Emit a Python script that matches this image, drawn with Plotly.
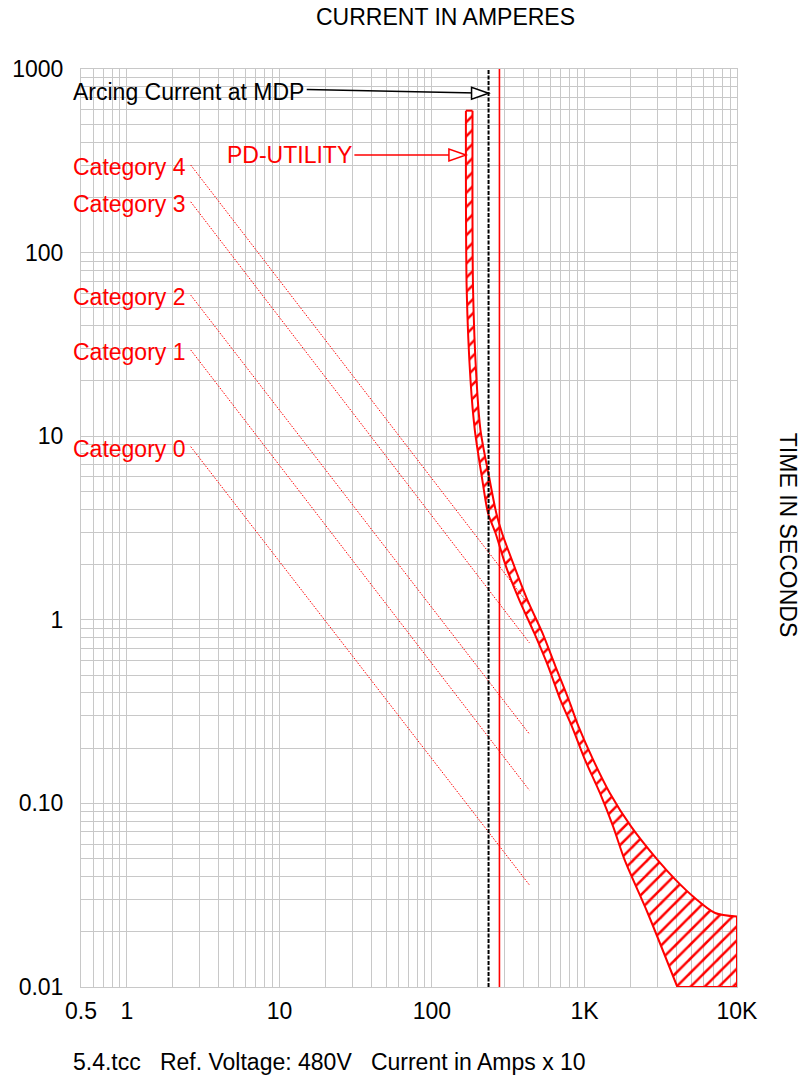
import math
import plotly.graph_objects as go

# ---------------- Data ----------------
# PD-UTILITY band: minimum (left) and maximum (right) clearing curves, amps / seconds
pd_min_amps = [167, 169, 179, 191, 214, 233, 261, 306, 374, 468, 579, 695, 828,
               1010, 1262, 1542, 1834, 2597, 4064]
pd_min_secs = [593, 62.5, 20.2, 10.8, 5.77, 3.82, 2.97, 1.95, 1.28, 0.848, 0.556,
               0.366, 0.262, 0.172, 0.114, 0.0747, 0.0492, 0.0253, 0.01]
pd_max_amps = [184.5, 186, 196, 208, 239, 264, 288, 347, 423, 530, 646, 789, 915,
               1143, 1465, 2024, 3013, 3960, 5180, 7190, 10000]
pd_max_secs = [593, 62.5, 20.2, 10.8, 5.77, 3.82, 2.97, 1.95, 1.28, 0.848, 0.556,
               0.366, 0.262, 0.172, 0.114, 0.0747, 0.0492, 0.0383, 0.031, 0.0253,
               0.0242]
pd_floor_secs = 0.01

# Arc-flash category lines (start / end points)
categories = ["Category 4", "Category 3", "Category 2", "Category 1", "Category 0"]
cat_amps = [2.62, 435]
cat_start_secs = [300, 189, 58.7, 29.5, 8.77]
cat_end_secs = [1.20, 0.75, 0.239, 0.118, 0.036]

arcing_current = 235      # Arcing current at MDP (black dashed)
red_line_current = 277    # red vertical marker
pd_label_secs = 340       # where the PD-UTILITY arrow hits the band
arc_label_secs = [774, 738]
arc_label_from = 15.1
pd_label_from = 31

x_labels = {0.5: "0.5", 1: "1", 10: "10", 100: "100", 1000: "1K", 10000: "10K"}
y_labels = {0.01: "0.01", 0.1: "0.10", 1: "1", 10: "10", 100: "100", 1000: "1000"}

FONT = "Liberation Sans, Arial, sans-serif"
RED = "#ff0000"
GRID = "#c8c8c8"
FS = 23
LEFT = -0.015   # labels hug the left edge of the grid

# grid values 1..9 per decade
x_grid = [0.5, 0.6, 0.7, 0.8, 0.9] + [m * 10 ** e for e in range(0, 4) for m in range(1, 10)] + [10000]
y_grid = [m * 10.0 ** e for e in range(-2, 3) for m in range(1, 10)] + [1000]

fig = go.Figure()

# ---------------- Category lines ----------------
for name, t0, t1 in zip(categories, cat_start_secs, cat_end_secs):
    fig.add_trace(go.Scatter(x=cat_amps, y=[t0, t1], mode="lines",
                             line=dict(color=RED, width=1, dash="1.5px,1.5px"),
                             hoverinfo="skip", showlegend=False))

# ---------------- PD-UTILITY band ----------------
band_x = pd_min_amps + [pd_max_amps[-1]] + pd_max_amps[::-1]
band_y = pd_min_secs + [pd_floor_secs] + pd_max_secs[::-1]
fig.add_trace(go.Scatter(x=band_x, y=band_y, mode="lines", fill="toself",
                         fillcolor="rgba(0,0,0,0)",
                         fillpattern=dict(shape="/", fgcolor=RED, fgopacity=1, size=10, solidity=0.25),
                         line=dict(width=0), hoverinfo="skip", showlegend=False))
# outline: smooth curves + straight edges
for xs, ys in [(pd_min_amps, pd_min_secs), (pd_max_amps, pd_max_secs)]:
    fig.add_trace(go.Scatter(x=xs, y=ys, mode="lines", line_shape="spline",
                             line=dict(color=RED, width=2, smoothing=0.8), showlegend=False))
fig.add_trace(go.Scatter(x=[pd_min_amps[0], pd_max_amps[0]], y=[pd_min_secs[0], pd_max_secs[0]],
                         mode="lines", line=dict(color=RED, width=2), showlegend=False))
fig.add_trace(go.Scatter(x=[pd_min_amps[-1], pd_max_amps[-1], pd_max_amps[-1]],
                         y=[pd_floor_secs, pd_floor_secs, pd_max_secs[-1]],
                         mode="lines", line=dict(color=RED, width=2), showlegend=False))

# ---------------- Vertical lines ----------------
fig.add_trace(go.Scatter(x=[arcing_current, arcing_current], y=[0.01, 1000], mode="lines",
                         line=dict(color="black", width=2, dash="4px,1.5px"), showlegend=False))
fig.add_trace(go.Scatter(x=[red_line_current, red_line_current], y=[0.01, 1000], mode="lines",
                         line=dict(color=RED, width=1.6), showlegend=False))

# ---------------- Arrows ----------------
fig.add_shape(type="line", xref="x", yref="y", x0=arc_label_from, y0=arc_label_secs[0],
              x1=arcing_current, y1=arc_label_secs[1], line=dict(color="black", width=1.5))
fig.add_shape(type="path", xref="x", yref="y", xsizemode="pixel", ysizemode="pixel",
              xanchor=arcing_current, yanchor=arc_label_secs[1],
              path="M 0 0 L -17 6 L -17 -6 Z", fillcolor="white",
              line=dict(color="black", width=1.5))
fig.add_shape(type="line", xref="x", yref="y", x0=pd_label_from, y0=pd_label_secs,
              x1=pd_min_amps[0], y1=pd_label_secs, line=dict(color=RED, width=1.5))
fig.add_shape(type="path", xref="x", yref="y", xsizemode="pixel", ysizemode="pixel",
              xanchor=pd_min_amps[0], yanchor=pd_label_secs,
              path="M 0 0 L -17 6 L -17 -6 Z", fillcolor="white",
              line=dict(color=RED, width=1.5))

# ---------------- Text ----------------
for name, t0 in zip(categories, cat_start_secs):
    fig.add_annotation(x=LEFT, xref="paper", y=math.log10(t0) - 0.01, yref="y",
                       text=name, showarrow=False, xanchor="left", yanchor="middle",
                       align="left", font=dict(family=FONT, size=FS, color=RED))
fig.add_annotation(x=LEFT, xref="paper", y=math.log10(arc_label_secs[0]) - 0.015, yref="y",
                   text="Arcing Current at MDP", showarrow=False, xanchor="left",
                   yanchor="middle", align="left", font=dict(family=FONT, size=FS, color="black"))
fig.add_annotation(x=math.log10(pd_label_from), xref="x", y=math.log10(pd_label_secs), yref="y",
                   text="PD-UTILITY", showarrow=False, xanchor="right", align="right",
                   yanchor="middle", font=dict(family=FONT, size=FS, color=RED))

fig.add_annotation(x=0.5557, xref="paper", y=1.0566, yref="paper", text="CURRENT IN AMPERES",
                   showarrow=False, xanchor="center", yanchor="middle",
                   font=dict(family=FONT, size=FS, color="black"))
fig.add_annotation(x=1.078, xref="paper", y=0.4924, yref="paper", text="TIME IN SECONDS",
                   textangle=90, showarrow=False, xanchor="center", yanchor="middle",
                   font=dict(family=FONT, size=FS, color="black"))
fig.add_annotation(x=LEFT, xref="paper", y=-0.0817, yref="paper",
                   text="5.4.tcc   Ref. Voltage: 480V   Current in Amps x 10",
                   showarrow=False, xanchor="left", yanchor="middle", align="left",
                   font=dict(family=FONT, size=FS, color="black"))

fig.update_xaxes(type="log", range=[math.log10(0.5), 4],
                 tickvals=x_grid, ticktext=[x_labels.get(v, "") for v in x_grid],
                 showgrid=True, gridcolor=GRID, gridwidth=1, zeroline=False,
                 showline=True, linecolor=GRID, mirror=True, ticks="",
                 ticklabelstandoff=3, tickfont=dict(family=FONT, size=FS, color="black"))
fig.update_yaxes(type="log", range=[-2, 3],
                 tickvals=y_grid, ticktext=[y_labels.get(round(v, 4), "") for v in y_grid],
                 showgrid=True, gridcolor=GRID, gridwidth=1, zeroline=False,
                 showline=True, linecolor=GRID, mirror=True, ticks="",
                 ticklabelstandoff=12, tickfont=dict(family=FONT, size=FS, color="black"))

fig.update_layout(width=802, height=1078, margin=dict(l=73, r=65, t=69, b=91),
                  plot_bgcolor="white", paper_bgcolor="white", showlegend=False,
                  font=dict(family=FONT))

# drop the default 8px page margin so the figure sits at the window's top-left corner
fig.write_html("out.html", config={"displayModeBar": False},
               post_script="document.body.style.margin='0';")
